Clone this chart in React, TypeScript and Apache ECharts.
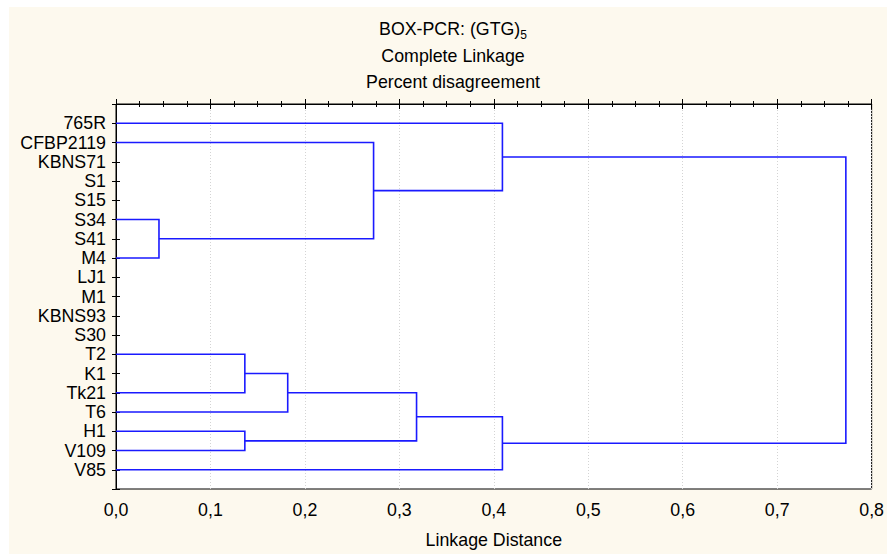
import React, { useEffect, useRef } from "react";
import * as echarts from "echarts";

const leaves = [
  "765R", "CFBP2119", "KBNS71", "S1", "S15", "S34", "S41", "M4", "LJ1", "M1",
  "KBNS93", "S30", "T2", "K1", "Tk21", "T6", "H1", "V109", "V85",
];

// [left child, right child, linkage distance]; "mN" refers to merge N
const merges: [string, string, number][] = [
  ["S34", "M4", 0.0455],
  ["CFBP2119", "m0", 0.2727],
  ["765R", "m1", 0.4091],
  ["T2", "Tk21", 0.1364],
  ["m3", "T6", 0.1818],
  ["H1", "V109", 0.1364],
  ["m4", "m5", 0.3182],
  ["m6", "V85", 0.4091],
  ["m2", "m7", 0.7727],
];

const xTicks = [0, 0.1, 0.2, 0.3, 0.4, 0.5, 0.6, 0.7, 0.8];

const titleLines = ["BOX-PCR: (GTG)", "5", "Complete Linkage", "Percent disagreement"];
const xAxisName = "Linkage Distance";

const FONT = "Arial, 'Liberation Sans', sans-serif";
const FS = 17.8;

function buildLinks() {
  const nodes: { y: number; h: number }[] = [];
  const resolve = (id: string) => {
    if (/^m\d+$/.test(id)) return nodes[parseInt(id.slice(1), 10)];
    return { y: leaves.indexOf(id) + 1, h: 0 };
  };
  const data: number[][] = [];
  merges.forEach(([a, b, d]) => {
    const A = resolve(a);
    const B = resolve(b);
    data.push([A.h, A.y, d, B.y, B.h]);
    nodes.push({ y: (A.y + B.y) / 2, h: d });
  });
  return data;
}

export default function App() {
  const ref = useRef<HTMLDivElement>(null);
  useEffect(() => {
    if (!ref.current) return;
    const chart = echarts.init(ref.current, undefined, { renderer: "svg" });
    const linkData = buildLinks();
    const fmtX = (v: number) => v.toFixed(1).replace(".", ",");
    const yLabel = (v: number) => (v >= 1 && v <= leaves.length ? leaves[Math.round(v) - 1] : "");
    const commonX = {
      type: "value" as const,
      min: xTicks[0],
      max: xTicks[xTicks.length - 1],
      interval: 0.1,
      axisLine: { show: true, lineStyle: { color: "#000", width: 1 } },
      axisTick: { show: true, inside: true, length: 5, lineStyle: { color: "#000" } },
      minorTick: { show: true, splitNumber: 4, length: 3, lineStyle: { color: "#000" } },
    };
    const commonY = {
      type: "value" as const,
      min: 0,
      max: leaves.length + 1,
      interval: 1,
      inverse: true,
      axisLine: { show: true, lineStyle: { color: "#000", width: 1 } },
      axisTick: { show: true, inside: true, length: 4, lineStyle: { color: "#000" } },
      splitLine: { show: false },
    };
    chart.setOption({
      animation: false,
      backgroundColor: "#FDF9EE",
      grid: {
        left: 116,
        right: 12,
        top: 104,
        bottom: 65,
        show: true,
        backgroundColor: "#ffffff",
        borderColor: "#000",
        borderWidth: 1,
      },
      xAxis: [
        {
          ...commonX,
          position: "bottom",
          axisLabel: {
            formatter: fmtX,
            fontFamily: FONT,
            fontSize: FS,
            color: "#000",
            margin: 12,
          },
          splitLine: { show: true, lineStyle: { color: "#d4d4d4", type: [1, 2], width: 1 } },
          name: xAxisName,
          nameLocation: "middle",
          nameGap: 42,
          nameTextStyle: { fontFamily: FONT, fontSize: FS, color: "#000" },
        },
        {
          ...commonX,
          position: "top",
          axisLabel: { show: false },
          splitLine: { show: false },
        },
      ],
      yAxis: [
        {
          ...commonY,
          position: "left",
          axisLabel: {
            formatter: yLabel,
            fontFamily: FONT,
            fontSize: FS,
            color: "#000",
            margin: 10,
          },
        },
        {
          ...commonY,
          position: "right",
          axisLabel: { show: false },
        },
      ],
      graphic: [
        { type: "rect", shape: { x: 0, y: 0, width: 887, height: 7 }, style: { fill: "#fff" }, silent: true },
        { type: "rect", shape: { x: 0, y: 0, width: 9, height: 554 }, style: { fill: "#fff" }, silent: true },
        {
          type: "text",
          x: 453,
          y: 29,
          style: {
            text: titleLines[0] + "{s|" + titleLines[1] + "}",
            fontFamily: FONT,
            fontSize: FS,
            fill: "#000",
            align: "center",
            verticalAlign: "middle",
            lineHeight: 24,
            rich: {
              s: { fontFamily: FONT, fontSize: 12, lineHeight: 12, verticalAlign: "bottom", fill: "#000" },
            },
          },
        },
        {
          type: "text",
          x: 453,
          y: 56,
          style: {
            text: titleLines[2],
            fontFamily: FONT,
            fontSize: FS,
            fill: "#000",
            align: "center",
            verticalAlign: "middle",
          },
        },
        {
          type: "text",
          x: 453,
          y: 82,
          style: {
            text: titleLines[3],
            fontFamily: FONT,
            fontSize: FS,
            fill: "#000",
            align: "center",
            verticalAlign: "middle",
          },
        },
      ],
      series: [
        {
          type: "custom",
          xAxisIndex: 0,
          yAxisIndex: 0,
          data: linkData,
          encode: { x: [0, 2, 4], y: [1, 3] },
          clip: false,
          renderItem: (params: any, api: any) => {
            const p1 = api.coord([api.value(0), api.value(1)]);
            const p2 = api.coord([api.value(2), api.value(1)]);
            const p3 = api.coord([api.value(2), api.value(3)]);
            const p4 = api.coord([api.value(4), api.value(3)]);
            return {
              type: "polyline",
              shape: { points: [p1, p2, p3, p4] },
              style: { stroke: "#1a1aff", lineWidth: 1.6, fill: "none" },
            };
          },
        },
      ],
    });
    return () => chart.dispose();
  }, []);
  return (
    <div
      ref={ref}
      style={{ position: "fixed", left: 0, top: 0, width: 887, height: 554 }}
    />
  );
}
